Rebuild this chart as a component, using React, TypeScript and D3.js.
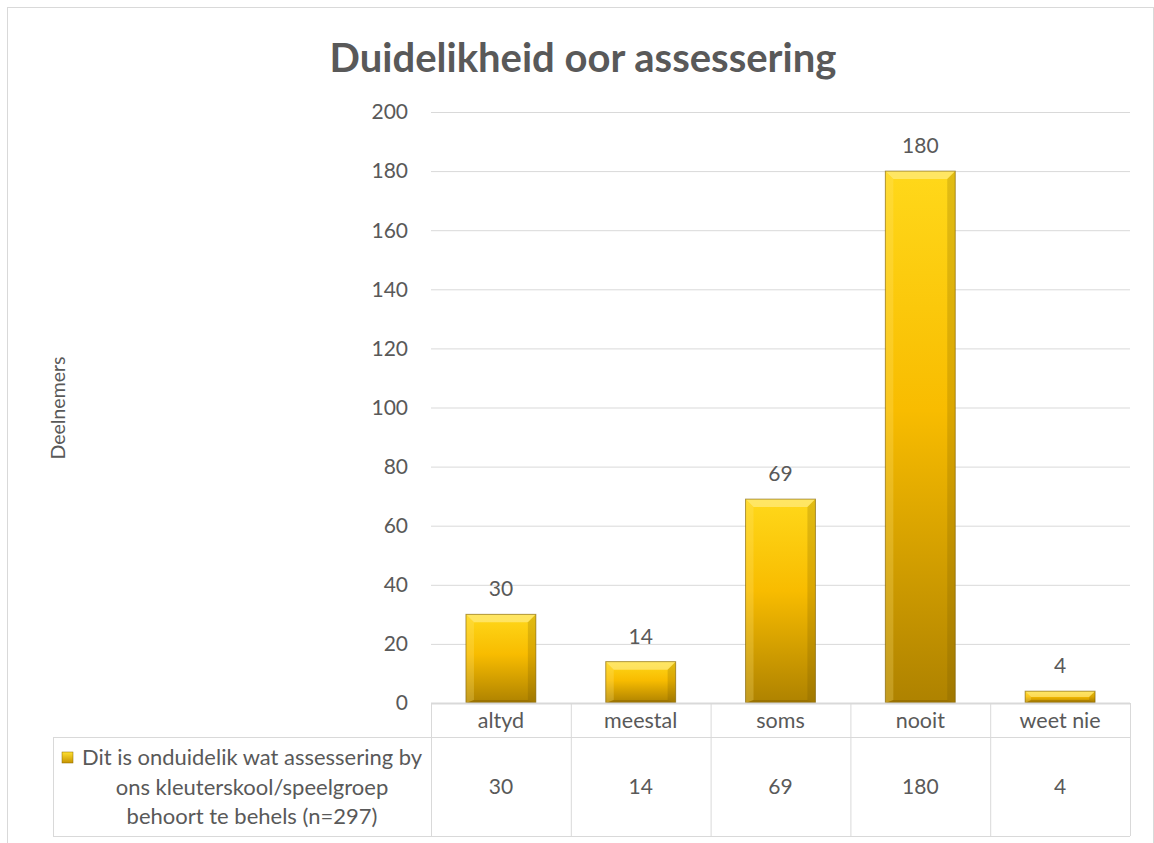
import React from "react";
import * as d3 from "d3";

const categories = ["altyd", "meestal", "soms", "nooit", "weet nie"];
const values = [30, 14, 69, 180, 4];
const yTicks = [0, 20, 40, 60, 80, 100, 120, 140, 160, 180, 200];
const seriesName = ["Dit is onduidelik wat assessering by", "ons kleuterskool/speelgroep", "behoort te behels (n=297)"];
const title = "Duidelikheid oor assessering";
const yTitle = "Deelnemers";

const W = 1154;
const H = 843;
const FONT = "Lato, 'Open Sans', sans-serif";
const TXT = "#595959";
const GRID = "#d9d9d9";

export default function App() {
  const left = 431, right = 1130, top = 112, bottom = 703;
  const x = d3.scaleBand<string>().domain(categories).range([left, right]).paddingInner(0).paddingOuter(0);
  const y = d3.scaleLinear().domain([0, 200]).range([bottom, top]);
  const bw = x.bandwidth() * 0.5;
  const rowH1 = 34, rowH2 = 99;
  const tableLeft = 53;
  const bev = 8;

  return (
    <svg width={W} height={H} style={{ position: "absolute", left: 0, top: 0 }} fontFamily={FONT}>
      <defs>
        <linearGradient id="barg" x1="0" y1="0" x2="0" y2="1">
          <stop offset="0" stopColor="#FFD81A" />
          <stop offset="0.45" stopColor="#F8BC00" />
          <stop offset="1" stopColor="#AE8200" />
        </linearGradient>
        <linearGradient id="keyg" x1="0" y1="0" x2="0" y2="1">
          <stop offset="0" stopColor="#FFE030" />
          <stop offset="1" stopColor="#C79400" />
        </linearGradient>
      </defs>
      <rect x={0} y={0} width={W} height={H} fill="#fff" />
      <rect x={7.5} y={7.5} width={W - 8} height={H} fill="none" stroke={GRID} strokeWidth={1} />
      <text x={583} y={72} textAnchor="middle" fontSize={40} fontWeight="bold" fill={TXT}>{title}</text>

      {yTicks.map((t) => (
        <g key={t}>
          {t > 0 && <line x1={left} x2={right} y1={y(t) + 0.5} y2={y(t) + 0.5} stroke={GRID} strokeWidth={1} />}
          <text x={408} y={y(t)} dy="0.35em" textAnchor="end" fontSize={21} fill={TXT}>{t}</text>
        </g>
      ))}
      <text transform={`translate(65,408) rotate(-90)`} textAnchor="middle" fontSize={19.5} fill={TXT}>{yTitle}</text>

      {categories.map((c, i) => {
        const v = values[i];
        const bx = (x(c) as number) + (x.bandwidth() - bw) / 2;
        const by = y(v);
        const bh = bottom - by;
        const b = Math.min(bev, bh / 2);
        const bb = Math.min(3, bh / 3);
        return (
          <g key={c}>
            <rect x={bx} y={by} width={bw} height={bh} fill="url(#barg)" />
            <polygon points={`${bx},${by} ${bx + bw},${by} ${bx + bw - b},${by + b} ${bx + b},${by + b}`} fill="#FFF2A0" opacity={0.55} />
            <polygon points={`${bx},${by} ${bx + b},${by + b} ${bx + b},${bottom - bb} ${bx},${bottom}`} fill="#FFE680" opacity={0.25} />
            <polygon points={`${bx + bw},${by} ${bx + bw - b},${by + b} ${bx + bw - b},${bottom - bb} ${bx + bw},${bottom}`} fill="#6B4E00" opacity={0.2} />
            <polygon points={`${bx},${bottom} ${bx + b},${bottom - bb} ${bx + bw - b},${bottom - bb} ${bx + bw},${bottom}`} fill="#5A4000" opacity={0.25} />
            <rect x={bx} y={by} width={bw} height={bh} fill="none" stroke="#7A5C00" strokeWidth={1} opacity={0.6} />
            <text x={bx + bw / 2} y={by - 18} textAnchor="middle" fontSize={21} fill={TXT}>{v}</text>
          </g>
        );
      })}

      {/* data table */}
      <line x1={left} x2={right} y1={bottom + 0.5} y2={bottom + 0.5} stroke={GRID} strokeWidth={2} />
      <line x1={tableLeft} x2={right} y1={bottom + rowH1 + 0.5} y2={bottom + rowH1 + 0.5} stroke={GRID} />
      <line x1={tableLeft} x2={right} y1={bottom + rowH1 + rowH2 + 0.5} y2={bottom + rowH1 + rowH2 + 0.5} stroke={GRID} />
      <line x1={tableLeft + 0.5} x2={tableLeft + 0.5} y1={bottom + rowH1} y2={bottom + rowH1 + rowH2} stroke={GRID} />
      {[...categories.map((c) => x(c) as number), right].map((xx, i) => (
        <line key={i} x1={xx + 0.5} x2={xx + 0.5} y1={bottom} y2={bottom + rowH1 + rowH2} stroke={GRID} />
      ))}
      {categories.map((c, i) => (
        <g key={c}>
          <text x={(x(c) as number) + x.bandwidth() / 2} y={bottom + rowH1 / 2} dy="0.35em" textAnchor="middle" fontSize={21.5} fill={TXT}>{c}</text>
          <text x={(x(c) as number) + x.bandwidth() / 2} y={bottom + rowH1 + rowH2 / 2} dy="0.35em" textAnchor="middle" fontSize={21} fill={TXT}>{values[i]}</text>
        </g>
      ))}
      <rect x={62} y={752} width={11} height={11} fill="url(#keyg)" stroke="#8A6A00" strokeWidth={0.5} />
      <text x={82} y={765} fontSize={22} textLength={340} lengthAdjust="spacingAndGlyphs" fill={TXT}>{seriesName[0]}</text>
      <text x={252} y={795} textAnchor="middle" fontSize={22} fill={TXT}>{seriesName[1]}</text>
      <text x={252} y={824} textAnchor="middle" fontSize={22} fill={TXT}>{seriesName[2]}</text>
    </svg>
  );
}
